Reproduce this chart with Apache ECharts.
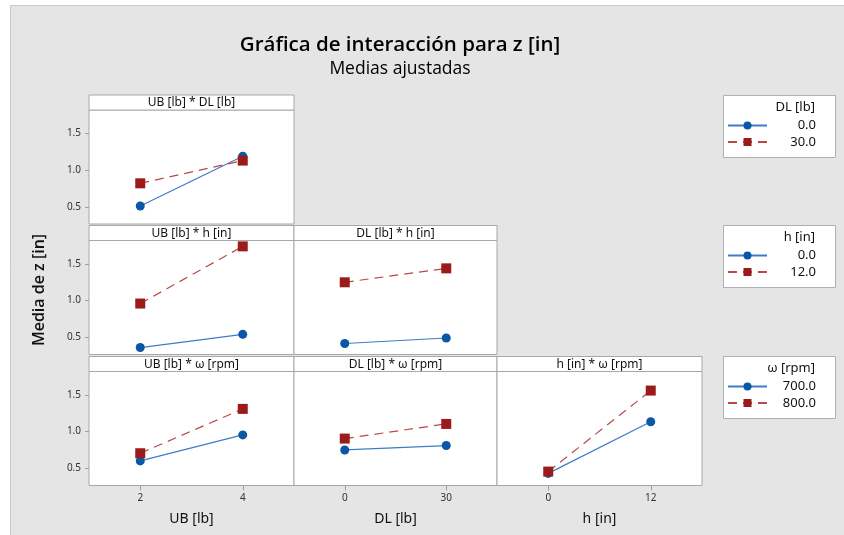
<!DOCTYPE html>
<html>
<head>
<meta charset="utf-8">
<script src="https://cdn.jsdelivr.net/npm/echarts@6/dist/echarts.min.js"></script>
<style>html,body{margin:0;padding:0;background:#fff}#c{width:844px;height:535px}</style>
</head>
<body>
<div id="c"></div>
<script>
// ---- data ----
const ubLevels = [2, 4];
const dlLevels = [0, 30];
const hLevels = [0, 12];
const yTicks = [0.5, 1.0, 1.5];
const ubTicks = [2, 4];
const dlTicks = [0, 30];
const hTicks = [0, 12];
const panelTitles = ['UB [lb] * DL [lb]', 'UB [lb] * h [in]', 'DL [lb] * h [in]', 'UB [lb] * \u03c9 [rpm]', 'DL [lb] * \u03c9 [rpm]', 'h [in] * \u03c9 [rpm]'];
const xNames = ['UB [lb]', 'DL [lb]', 'h [in]'];
// UB * DL
const ubDl_dl0 = [0.51, 1.19];
const ubDl_dl30 = [0.82, 1.13];
// UB * h
const ubH_h0 = [0.36, 0.54];
const ubH_h12 = [0.96, 1.74];
// DL * h
const dlH_h0 = [0.415, 0.49];
const dlH_h12 = [1.25, 1.44];
// UB * w
const ubW_700 = [0.60, 0.955];
const ubW_800 = [0.705, 1.31];
// DL * w
const dlW_700 = [0.75, 0.81];
const dlW_800 = [0.905, 1.105];
// h * w
const hW_700 = [0.43, 1.135];
const hW_800 = [0.455, 1.56];
const legendTitles = ['DL [lb]', 'h [in]', '\u03c9 [rpm]'];
const legendNames = [['DL 0.0', 'DL 30.0'], ['h 0.0', 'h 12.0'], ['\u03c9 700.0', '\u03c9 800.0']];

// ---- layout ----
const colLeft = [89, 294, 497];
const colWidth = [205, 203, 205];
const rowTop = [95, 225.5, 356.5];
const headH = 15;
const plotH = 114;
const xRanges = [[1, 5], [-15, 45], [-6, 18]];
const xTickSets = [ubTicks, dlTicks, hTicks];
const xLevelSets = [ubLevels, dlLevels, hLevels];
const BLUE = '#0a57a8', BLUE_LINE = '#3d7cc6', RED = '#9b1a1a', RED_LINE = '#b94848';
const FONT = 'Noto Sans';
const TFONT = 'Open Sans';

// panels: [row, col, xIdx, seriesA, seriesB, legendRow]
const panels = [
  [0, 0, 0, ubDl_dl0, ubDl_dl30, 0],
  [1, 0, 0, ubH_h0, ubH_h12, 1],
  [1, 1, 1, dlH_h0, dlH_h12, 1],
  [2, 0, 0, ubW_700, ubW_800, 2],
  [2, 1, 1, dlW_700, dlW_800, 2],
  [2, 2, 2, hW_700, hW_800, 2]
];

const grids = [], xAxes = [], yAxes = [], series = [], graphics = [];
graphics.push({type: 'rect', shape: {x: 10.5, y: 5.5, width: 840, height: 540}, style: {fill: '#e5e5e5', stroke: '#c9c9c9', lineWidth: 1}, z: -10});

panels.forEach((p, i) => {
  const [r, c, xi, a, b, lr] = p;
  const top = rowTop[r] + headH;
  grids.push({left: colLeft[c], top: top, width: colWidth[c], height: plotH, show: true, backgroundColor: '#fff', borderColor: '#a8a8a8', borderWidth: 1, containLabel: false});
  const bottomRow = (r === 2);
  xAxes.push({
    type: 'value', gridIndex: i, min: xRanges[xi][0], max: xRanges[xi][1],
    axisLine: {show: false}, splitLine: {show: false},
    axisTick: {show: bottomRow, customValues: xTickSets[xi], length: 5, lineStyle: {color: '#a0a0a0'}},
    axisLabel: {show: bottomRow, customValues: xTickSets[xi], margin: 8, fontSize: 10, color: '#333', fontFamily: FONT},
    name: bottomRow ? xNames[xi] : '', nameLocation: 'middle', nameGap: 27,
    nameTextStyle: {fontSize: 14, color: '#111', fontFamily: FONT}
  });
  const leftCol = (c === 0);
  yAxes.push({
    type: 'value', gridIndex: i, min: 0.265, max: 1.82,
    axisLine: {show: false}, splitLine: {show: false},
    axisTick: {show: leftCol, customValues: yTicks, length: 4, lineStyle: {color: '#a0a0a0'}},
    axisLabel: {show: leftCol, customValues: yTicks, margin: 8, fontSize: 10, color: '#333', fontFamily: FONT, formatter: v => v.toFixed(1)}
  });
  const lv = xLevelSets[xi];
  series.push({
    type: 'line', name: legendNames[lr][0], xAxisIndex: i, yAxisIndex: i,
    data: lv.map((x, k) => [x, a[k]]),
    symbol: 'circle', symbolSize: 9, itemStyle: {color: BLUE},
    lineStyle: {color: BLUE_LINE, width: 1.2}, silent: true, animation: false
  });
  series.push({
    type: 'line', name: legendNames[lr][1], xAxisIndex: i, yAxisIndex: i,
    data: lv.map((x, k) => [x, b[k]]),
    symbol: 'rect', symbolSize: 10, itemStyle: {color: RED},
    lineStyle: {color: RED_LINE, width: 1.2, type: [9, 6]}, silent: true, animation: false, z: 3
  });
  // header
  graphics.push({type: 'rect', shape: {x: colLeft[c], y: rowTop[r], width: colWidth[c], height: headH}, style: {fill: '#fff', stroke: '#a8a8a8', lineWidth: 1}, z: 5});
  graphics.push({type: 'text', x: colLeft[c] + colWidth[c] / 2, y: rowTop[r] + headH / 2 + 0.5, style: {text: panelTitles[i], fill: '#111', font: '12px "' + FONT + '"', textAlign: 'center', textVerticalAlign: 'middle'}, z: 6});
});

// legends
const legBoxTop = [95, 225, 356];
const legends = [];
legendTitles.forEach((t, k) => {
  graphics.push({type: 'rect', shape: {x: 723.5, y: legBoxTop[k] + 0.5, width: 112, height: 62}, style: {fill: '#fff', stroke: '#b0b0b0', lineWidth: 1}, z: 5});
  graphics.push({type: 'text', x: 815, y: legBoxTop[k] + 12, style: {text: t, fill: '#111', font: '13px "' + FONT + '"', textAlign: 'right', textVerticalAlign: 'middle'}, z: 6});
  legends.push({
    data: legendNames[k], orient: 'vertical', left: 727, top: legBoxTop[k] + 24, padding: 0,
    itemWidth: 39, itemHeight: 10, itemGap: 3.5, selectedMode: false, z: 10,
    formatter: n => '{v|' + n.split(' ')[1] + '}',
    textStyle: {rich: {v: {width: 44, align: 'right', fontSize: 13, lineHeight: 15, color: '#111', fontFamily: FONT}}}
  });
});

// y title
graphics.push({type: 'text', x: 39, y: 290, rotation: Math.PI / 2, style: {text: 'Media de z [in]', fill: '#111', font: '600 16px "' + TFONT + '"', textAlign: 'center', textVerticalAlign: 'middle'}, z: 6});

const chart = echarts.init(document.getElementById('c'), null, {renderer: 'canvas'});
chart.setOption({
  animation: false,
  backgroundColor: '#fff',
  title: {
    text: 'Gr\u00e1fica de interacci\u00f3n para z [in]', subtext: 'Medias ajustadas',
    left: 395, textAlign: 'center', top: 27, itemGap: 1,
    textStyle: {fontSize: 20.5, fontWeight: 600, color: '#000', fontFamily: TFONT, lineHeight: 26},
    subtextStyle: {fontSize: 17.5, fontWeight: 500, color: '#000', fontFamily: TFONT, lineHeight: 20}
  },
  graphic: graphics,
  grid: grids, xAxis: xAxes, yAxis: yAxes, series: series, legend: legends
});
</script>
</body>
</html>
